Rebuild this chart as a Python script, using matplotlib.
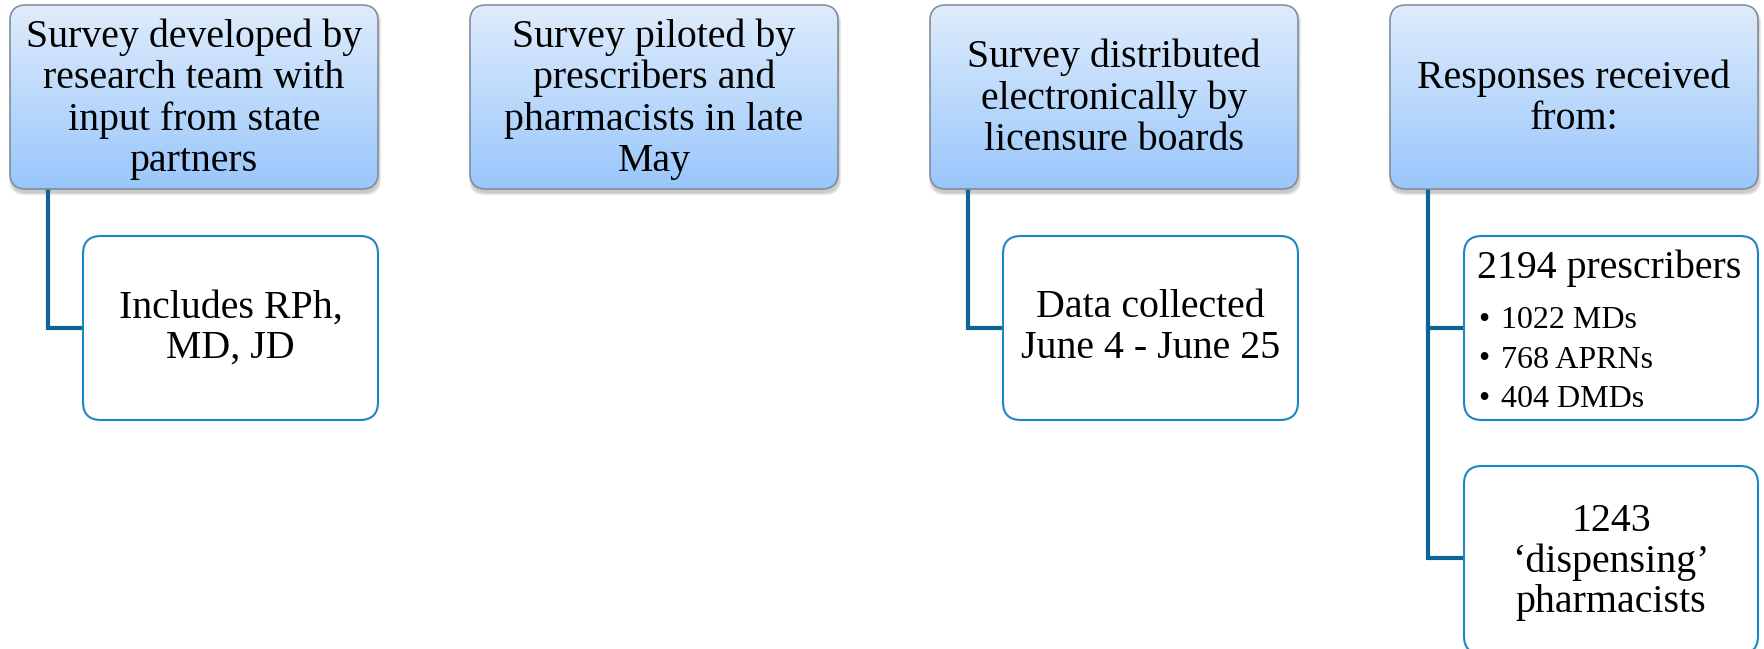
import numpy as np
import matplotlib
matplotlib.use('Agg')
import matplotlib.pyplot as plt
from matplotlib.patches import FancyBboxPatch

plt.rcParams['font.family'] = ['Liberation Serif', 'DejaVu Serif']

# step texts (top row) and their child notes
steps = ['Survey developed by\nresearch team with\ninput from state\npartners',
         'Survey piloted by\nprescribers and\npharmacists in late\nMay',
         'Survey distributed\nelectronically by\nlicensure boards',
         'Responses received\nfrom:']
notes = {0: ['Includes RPh,\nMD, JD'],
         2: ['Data collected\nJune 4 - June 25'],
         3: ['2194 prescribers', '1243\n\u2018dispensing\u2019\npharmacists']}
sub_items = ['1022 MDs', '768 APRNs', '404 DMDs']

FS = 28.7
FS_SUB = 23

W, H = 1764, 649
fig = plt.figure(figsize=(W / 100, H / 100), dpi=100)
ax = fig.add_axes([0, 0, 1, 1])
ax.set_xlim(0, W)
ax.set_ylim(H, 0)
ax.axis('off')

top_c = np.array([0.875, 0.925, 0.988])
bot_c = np.array([0.600, 0.780, 0.984])
grad = np.linspace(0, 1, 256)[:, None, None]
grad_img = top_c * (1 - grad) + bot_c * grad
grad_img = np.repeat(grad_img, 2, axis=1)

line_c = '#0e6595'
note_edge = '#1a86c2'

x0, pitch, bw = 10, 460, 368
hy0, hy1 = 5, 189
lw_conn = 3.0

for i, txt in enumerate(steps):
    bx = x0 + i * pitch
    # soft shadow
    for k, a in enumerate([0.06, 0.07, 0.09]):
        sh = FancyBboxPatch((bx + 1 - k, hy0 + 4 - k), bw + 2 * k, hy1 - hy0 + 2 * k,
                            boxstyle='round,pad=0,rounding_size=16',
                            fc='black', ec='none', alpha=a, zorder=1)
        ax.add_patch(sh)
    box = FancyBboxPatch((bx, hy0), bw, hy1 - hy0,
                         boxstyle='round,pad=0,rounding_size=16',
                         fc='none', ec='#7d8894', lw=1.1, zorder=3)
    ax.add_patch(box)
    im = ax.imshow(grad_img, extent=(bx, bx + bw, hy1, hy0), aspect='auto',
                   zorder=2, interpolation='bilinear')
    im.set_clip_path(box)
    ax.text(bx + bw / 2, (hy0 + hy1) / 2 + 2, txt, ha='center', va='center',
            fontsize=FS, linespacing=1.15, zorder=4)

    if i in notes:
        cx = bx + 38
        nx0 = bx + 73 if i < 3 else bx + 74
        nx1 = bx + bw
        boxes = [(236, 420)] if i < 3 else [(236, 420), (466, 654)]
        mids = [328] if i < 3 else [328, 558]
        ax.plot([cx, cx], [hy1, mids[-1] + 1.5], color=line_c, lw=lw_conn,
                solid_capstyle='butt', zorder=1)
        for j, (ny0, ny1) in enumerate(boxes):
            ymid = mids[j]
            ax.plot([cx - 1.5, nx0], [ymid, ymid], color=line_c, lw=lw_conn,
                    solid_capstyle='butt', zorder=1)
            nb = FancyBboxPatch((nx0, ny0), nx1 - nx0, ny1 - ny0,
                                boxstyle='round,pad=0,rounding_size=18',
                                fc='white', ec=note_edge, lw=1.5, zorder=3)
            ax.add_patch(nb)
            ntxt = notes[i][j]
            if i == 3 and j == 0:
                ax.text(nx0 + 13, 278, ntxt, ha='left', va='baseline',
                        fontsize=FS, zorder=4)
                for k, item in enumerate(sub_items):
                    yb = 328 + k * 39.5
                    ax.text(nx0 + 14, yb, '\u2022', ha='left', va='baseline',
                            fontsize=FS_SUB, zorder=4)
                    ax.text(nx0 + 37, yb, item, ha='left', va='baseline',
                            fontsize=FS_SUB, zorder=4)
            else:
                ty = (ny0 + ny1) / 2 if not (i == 3 and j == 1) else 562
                ax.text((nx0 + nx1) / 2, ty, ntxt, ha='center', va='center',
                        fontsize=FS, linespacing=1.12, zorder=4)

fig.savefig('out.png', dpi=100, facecolor='white')
